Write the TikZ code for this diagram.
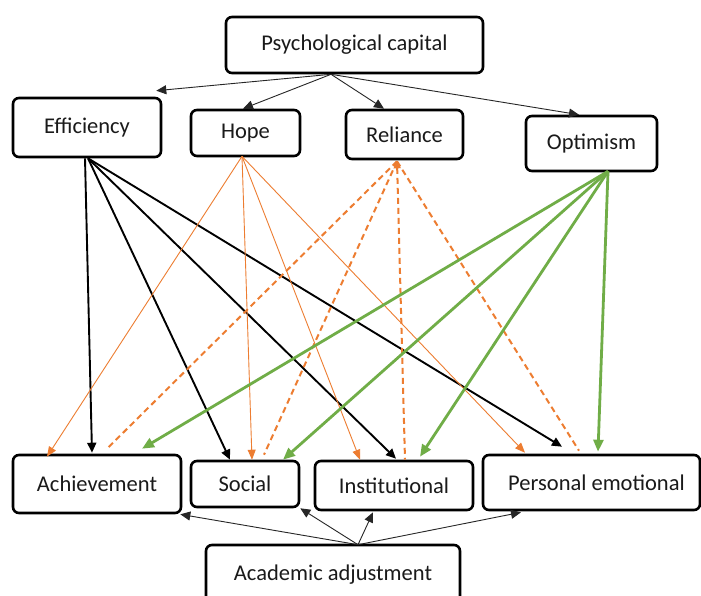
\documentclass[tikz,border=0pt]{standalone}
\usepackage{fontspec}
\setmainfont{Carlito}
\usetikzlibrary{arrows.meta}
\definecolor{hopeorange}{HTML}{ED7D31}
\definecolor{optgreen}{HTML}{70AD47}
\definecolor{labelink}{HTML}{1A1A1A}
\begin{document}
\begin{tikzpicture}[x=1pt,y=-1pt,
  box/.style={draw=black, line width=2.6pt, rounded corners=6pt, fill=white,
    inner sep=0pt, text=labelink, font=\fontsize{22.5}{27}\selectfont},
  thinlink/.style={draw=black!85, line width=0.9pt,
    -{Triangle[length=10pt,width=9pt]}},
  efflink/.style={draw=black, line width=1.9pt,
    -{Triangle[length=10pt,width=9pt]}},
  hopelink/.style={draw=hopeorange, line width=0.9pt,
    -{Triangle[length=10pt,width=8pt]}},
  rellink/.style={draw=hopeorange, line width=2pt, dash pattern=on 6pt off 4pt},
  optlink/.style={draw=optgreen, line width=2.8pt,
    -{Triangle[length=12pt,width=10pt]}}
]
\useasboundingbox (0,0) rectangle (701,595);
\clip (0,0) rectangle (701,595);
\fill[white] (0,0) rectangle (701,595);

% upper level
\node[box, minimum width=257pt, minimum height=56pt] (psy) at (354.5,45) {Psychological capital};
\node[box, minimum width=148pt, minimum height=59pt] (eff) at (87,127.5) {Efficiency};
\node[box, minimum width=109pt, minimum height=46pt] (hope) at (245.5,133) {Hope};
\node[box, minimum width=117pt, minimum height=49pt] (rel) at (404.5,134.5) {Reliance};
\node[box, minimum width=131pt, minimum height=55pt] (opt) at (591.5,143.5) {Optimism};

% lower level
\node[box, minimum width=168pt, minimum height=58pt] (ach) at (97,484) {Achievement};
\node[box, minimum width=108pt, minimum height=46pt] (soc) at (245,484) {Social};
\node[box, minimum width=158pt, minimum height=49pt] (inst) at (394,485.5) {Institutional};
\node[box, minimum width=217pt, minimum height=55pt] (pers) at (591.5,482.5) {\hspace*{10pt}Personal emotional};
\node[box, minimum width=254pt, minimum height=60pt] (acad) at (333,575) {Academic adjustment};

% psychological capital to its components
\coordinate (psyout) at ([xshift=-23.5pt]psy.south);
\draw[thinlink] (psyout) -- ([xshift=-6pt,yshift=6pt]eff.north east);
\draw[thinlink] (psyout) -- ([xshift=-2.5pt]hope.north);
\draw[thinlink] (psyout) -- ([xshift=-20.5pt]rel.north);
\draw[thinlink] (psyout) -- ([xshift=-12.5pt]opt.north);

% efficiency
\draw[efflink] ([xshift=-2pt]eff.south) -- ([xshift=-5pt,yshift=1pt]ach.north);
\draw[efflink] ([xshift=1pt]eff.south) -- ([xshift=-15pt,yshift=0pt]soc.north);
\draw[efflink] ([xshift=1pt]eff.south) -- ([xshift=2pt,yshift=1pt]inst.north);
\draw[efflink] ([xshift=1pt]eff.south) -- ([xshift=-29.5pt,yshift=7pt]pers.north);

% hope
\coordinate (hopeout) at ([xshift=-3.5pt,yshift=1pt]hope.south);
\draw[hopelink] (hopeout) -- ([xshift=-50pt,yshift=-3pt]ach.north);
\draw[hopelink] (hopeout) -- ([xshift=7pt,yshift=0pt]soc.north);
\draw[hopelink] (hopeout) -- ([xshift=-34pt,yshift=0pt]inst.north);
\draw[hopelink] (hopeout) -- ([xshift=-66.5pt,yshift=1pt]pers.north);

% reliance
\coordinate (relout) at ([xshift=-7.5pt,yshift=-1pt]rel.south);
\draw[rellink] (relout) -- ([xshift=11pt,yshift=6pt]ach.north);
\draw[rellink] (relout) -- ([xshift=19pt,yshift=5pt]soc.north);
\draw[rellink, {Triangle[length=7pt,width=7pt]}-] ([yshift=-1pt]rel.south -| relout) -- ([xshift=11pt,yshift=0pt]inst.north);
\draw[rellink] (relout) -- ([xshift=-12.5pt,yshift=3pt]pers.north);

% optimism
\coordinate (optout) at ([xshift=16.5pt,yshift=1pt]opt.south);
\draw[optlink] (optout) -- ([xshift=45pt,yshift=5pt]ach.north);
\draw[optlink] (optout) -- ([xshift=38pt,yshift=0pt]soc.north);
\draw[optlink] (optout) -- ([xshift=26pt,yshift=3pt]inst.north);
\draw[optlink] (optout) -- ([xshift=6.5pt,yshift=2pt]pers.north);

% academic adjustment to its dimensions
\coordinate (acadout) at ([xshift=25pt,yshift=-1pt]acad.north);
\draw[thinlink] (acadout) -- ([xshift=-2pt,yshift=0pt]ach.south east);
\draw[thinlink] (acadout) -- ([xshift=0pt,yshift=0pt]soc.south east);
\draw[thinlink] (acadout) -- ([xshift=-21pt,yshift=-1pt]inst.south);
\draw[thinlink] (acadout) -- ([xshift=-70.5pt,yshift=-1pt]pers.south);
\end{tikzpicture}
\end{document}
